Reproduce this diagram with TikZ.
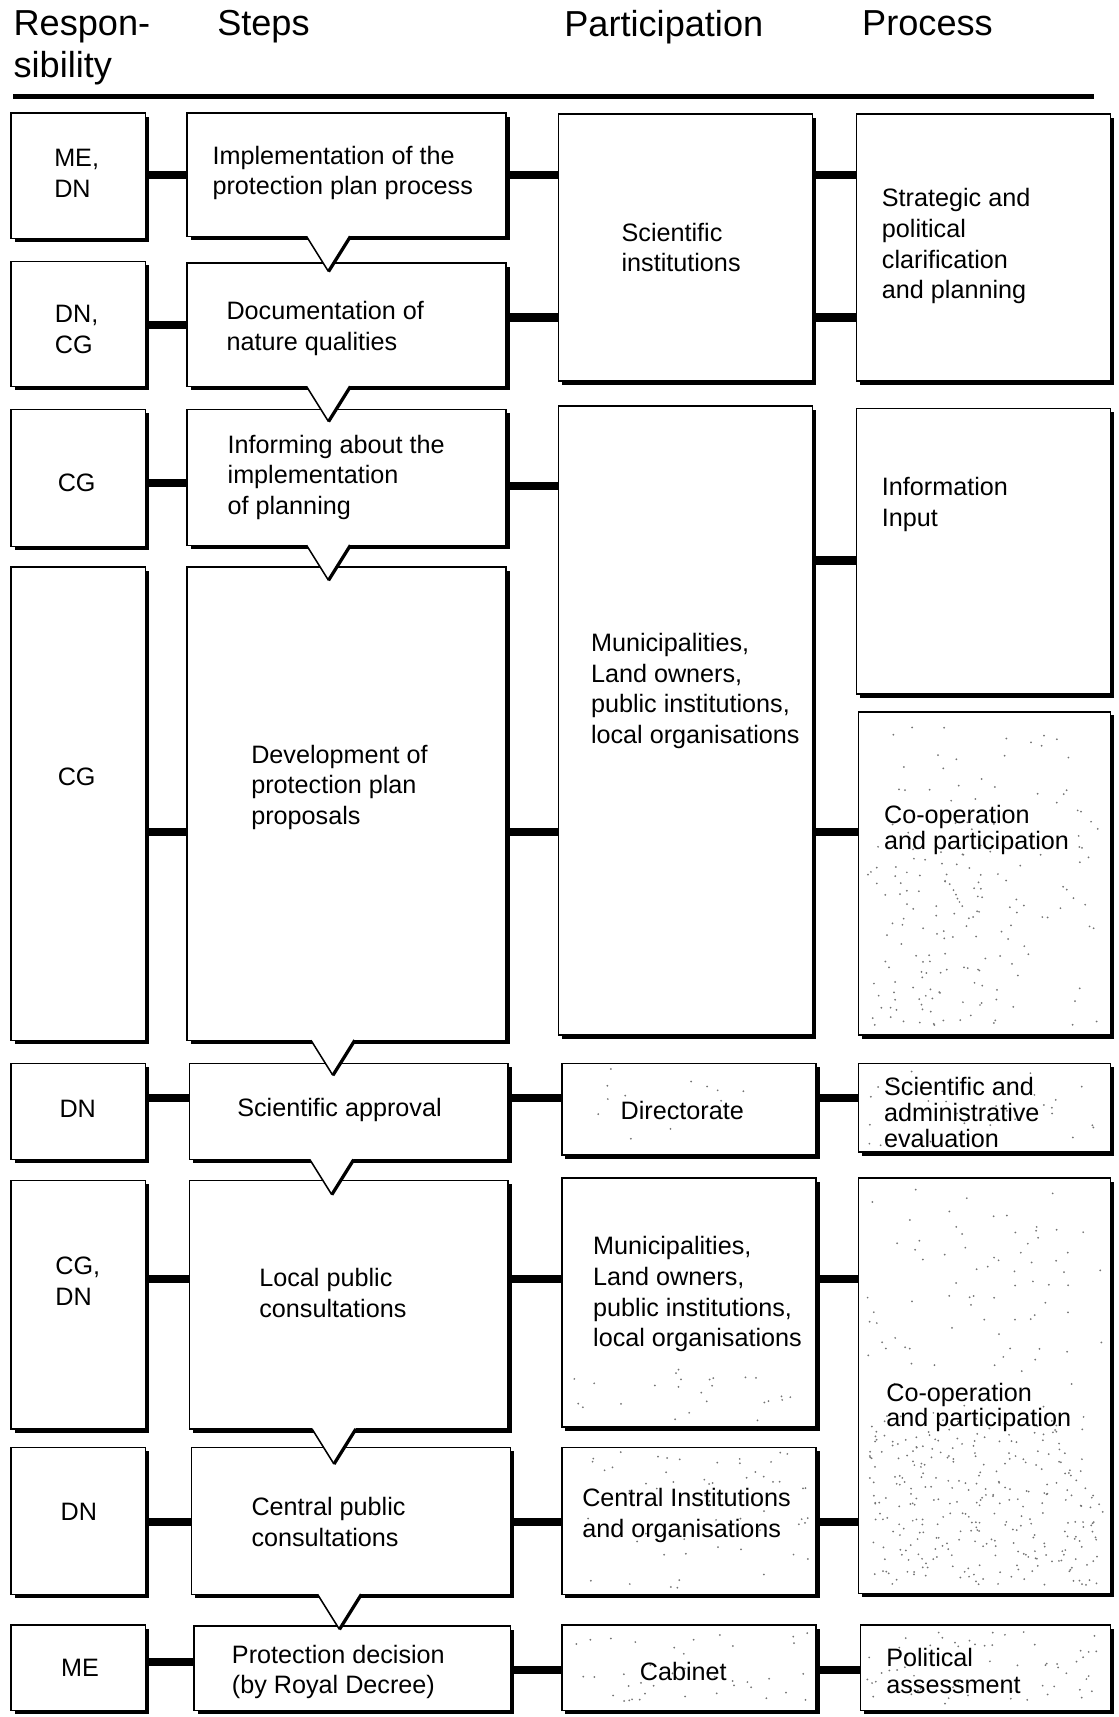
\documentclass[tikz,border=0pt]{standalone}
\usepackage{fontspec}
\setmainfont{Liberation Sans}
\usetikzlibrary{fit,shadows}

% scatter of small dots inside a rectangle: x1,y1,x2,y2,count
\newcommand\speckle[5]{%
  \foreach \k in {1,...,#5}{%
    \pgfmathsetmacro\sx{#1+rnd*(#3-#1)}%
    \pgfmathsetmacro\sy{#2+rnd*(#4-#2)}%
    \fill[black!55] (\sx,\sy) circle[radius=0.45pt];
  }%
}

\begin{document}
\begin{tikzpicture}[x=0.5pt,y=-0.5pt,
  box/.style={draw, fill=white, line width=0.7pt, inner sep=0pt, outer sep=0pt,
    drop shadow={shadow xshift=1.7pt, shadow yshift=-1.7pt, fill=black, opacity=1}},
  txt/.style={align=left, font=\fontsize{11.5}{14}\selectfont, inner sep=0pt},
  head/.style={align=left, font=\fontsize{16.5}{19.5}\selectfont, anchor=north west, inner sep=0pt},
  bar/.style={line width=3.8pt},
  rule/.style={line width=2.6pt},
]
\useasboundingbox (0,0) rectangle (1021,1568);
\pgfmathsetseed{4217}

% ---- column headings ----
\node[head] (h-resp) at (12,9) {Respon-\\sibility};
\node[head] (h-steps) at (198,9) {Steps};
\node[head] (h-part) at (515,9) {Participation};
\node[head] (h-proc) at (787,9) {Process};
\draw[rule] (12,88) -- (999,88);

% ---- responsibility column ----
\node[box, fit={(10,103) (133,218)}] (r1) {};
\node[box, fit={(10,239) (133,353)}] (r2) {};
\node[box, fit={(10,374) (133,499)}] (r3) {};
\node[box, fit={(10,518) (133,950)}] (r4) {};
\node[box, fit={(10,971) (133,1059)}] (r5) {};
\node[box, fit={(10,1078) (133,1305)}] (r6) {};
\node[box, fit={(10,1322) (133,1456)}] (r7) {};
\node[box, fit={(10,1484) (133,1562)}] (r8) {};

% ---- steps column ----
\node[box, fit={(171,103) (462,216)}] (s1) {};
\node[box, fit={(171,240) (462,353)}] (s2) {};
\node[box, fit={(171,374) (462,498)}] (s3) {};
\node[box, fit={(171,518) (462,950)}] (s4) {};
\node[box, fit={(173,971) (464,1059)}] (s5) {};
\node[box, fit={(173,1078) (464,1305)}] (s6) {};
\node[box, fit={(175,1322) (466,1456)}] (s7) {};
\node[box, fit={(177,1485) (466,1562)}] (s8) {};

% ---- participation column ----
\node[box, fit={(510,104) (742,348)}] (p1) {};
\node[box, fit={(510,371) (742,945)}] (p2) {};
\node[box, fit={(513,971) (745,1055)}] (p3) {};
\node[box, fit={(513,1076) (745,1303)}] (p4) {};
\node[box, fit={(513,1322) (745,1456)}] (p5) {};
\node[box, fit={(513,1484) (745,1562)}] (p6) {};

% ---- process column ----
\node[box, fit={(782,104) (1014,348)}] (q1) {};
\node[box, fit={(782,373) (1014,634)}] (q2) {};
\node[box, fit={(784,650) (1014,945)}] (q3) {};
\node[box, fit={(784,971) (1014,1052)}] (q4) {};
\node[box, fit={(784,1076) (1014,1455)}] (q5) {};
\node[box, fit={(786,1484) (1014,1562)}] (q6) {};

% ---- pointers from each step into the next one ----
\foreach \n/\x in {s1/300, s2/300, s3/300, s4/304, s5/303, s6/305, s7/310}{
  \fill[white] ([xshift=-10pt,yshift=0.5pt]\n.south -| \x,0) -- ([xshift=10pt,yshift=0.5pt]\n.south -| \x,0)
     -- ([yshift=-16pt]\n.south -| \x,0) -- cycle;
  \draw[line width=0.7pt] ([xshift=-10pt]\n.south -| \x,0) -- ([yshift=-16pt]\n.south -| \x,0);
  \draw[line width=1.5pt] ([yshift=-16pt]\n.south -| \x,0) -- ([xshift=10pt]\n.south -| \x,0);
}

% ---- connecting bars ----
\foreach \a/\b/\y in {r1/s1/160, r2/s2/297, r3/s3/441, r4/s4/760, r5/s5/1003,
    r6/s6/1168, r7/s7/1390, r8/s8/1518,
    s1/p1/160, s2/p1/290, s3/p2/444, s4/p2/760, s5/p3/1003, s6/p4/1168,
    s7/p5/1390, s8/p6/1525,
    p1/q1/160, p1/q1/290, p2/q2/512, p2/q3/760, p3/q4/1003, p4/q5/1168,
    p5/q5/1390, p6/q6/1525}{
  \draw[bar] (\a.east |- 0,\y) -- (\b.west |- 0,\y);
}

% ---- halftone speckle ----
\speckle{792}{658}{1004}{938}{110}
\speckle{792}{780}{900}{938}{80}
\speckle{792}{1084}{1008}{1448}{150}
\speckle{792}{1290}{1004}{1448}{250}
\speckle{792}{976}{1008}{1048}{30}
\speckle{792}{1490}{1008}{1556}{60}
\speckle{540}{976}{700}{1048}{15}
\speckle{520}{1250}{740}{1298}{25}
\speckle{520}{1326}{740}{1450}{60}
\speckle{520}{1490}{740}{1556}{40}

% ---- texts ----
\node[txt] (t-r1) at (70,158) {ME,\\DN};
\node[txt] (t-r2) at (70,301) {DN,\\CG};
\node[txt] (t-r3) at (70,441) {CG};
\node[txt] (t-r4) at (70,709) {CG};
\node[txt] (t-r5) at (71,1013) {DN};
\node[txt] (t-r6) at (71,1170) {CG,\\DN};
\node[txt] (t-r7) at (72,1381) {DN};
\node[txt] (t-r8) at (73,1523) {ME};

\node[txt] (t-s1) at (313,158) {Implementation of the\\protection plan process};
\node[txt] (t-s2) at (297,300) {Documentation of\\nature qualities};
\node[txt] (t-s3) at (307,436) {Informing about the\\implementation\\of planning};
\node[txt] (t-s4) at (310,719) {Development of\\protection plan\\proposals};
\node[txt] (t-s5) at (310,1014) {Scientific approval};
\node[txt] (t-s6) at (304,1181) {Local public\\consultations};
\node[txt] (t-s7) at (300,1390) {Central public\\consultations};
\node[txt] (t-s8) at (309,1527) {Protection decision\\(by Royal Decree)};

\node[txt] (t-p1) at (622,226) {Scientific\\institutions};
\node[txt] (t-p2) at (635,631) {Municipalities,\\Land owners,\\public institutions,\\local organisations};
\node[txt] (t-p3) at (623,1014) {Directorate};
\node[txt] (t-p4) at (637,1182) {Municipalities,\\Land owners,\\public institutions,\\local organisations};
\node[txt] (t-p5) at (627,1384) {Central Institutions\\and organisations};
\node[txt] (t-p6) at (624,1526) {Cabinet};

\node[txt, anchor=west] (t-q1) at (805,225) {Strategic and\\political\\clarification\\and planning};
\node[txt, anchor=west] (t-q2) at (805,461) {Information\\Input};
\node[txt, anchor=west, font=\fontsize{11.5}{11.5}\selectfont] (t-q3) at (807,758) {Co-operation\\and participation};
\node[txt, anchor=west, font=\fontsize{11.5}{12}\selectfont] (t-q4) at (807,1016) {Scientific and\\administrative\\evaluation};
\node[txt, anchor=west, font=\fontsize{11.5}{11.5}\selectfont] (t-q5) at (809,1285) {Co-operation\\and participation};
\node[txt, anchor=west, font=\fontsize{11.5}{12.5}\selectfont] (t-q6) at (809,1526) {Political\\assessment};
\end{tikzpicture}
\end{document}
